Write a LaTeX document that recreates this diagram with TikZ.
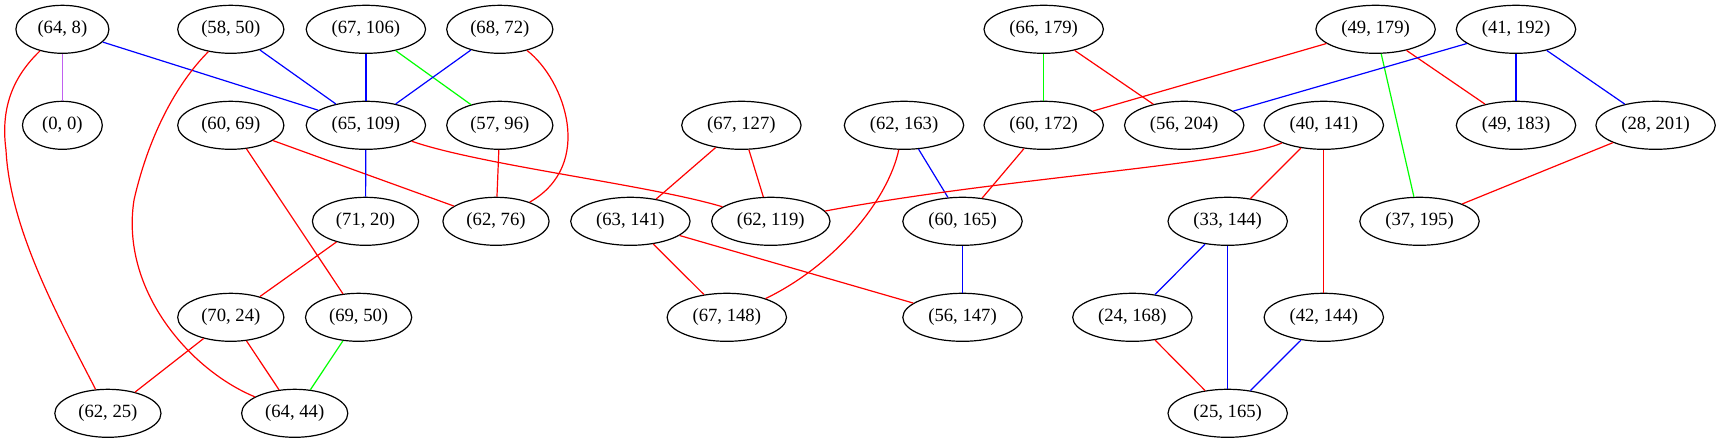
\documentclass[tikz,border=0pt]{standalone}
\usepackage{fontspec}
\setmainfont{Liberation Serif}
\usetikzlibrary{shapes.geometric}
\definecolor{gvpurple}{RGB}{192,96,240}
\tikzset{
  gv/.style={draw=black, ellipse, line width=0.9pt, inner xsep=6pt, inner ysep=2pt, minimum height=36pt, font=\fontsize{14}{16}\selectfont},
  er/.style={draw=red, line width=0.9pt},
  eb/.style={draw=blue, line width=0.9pt},
  eg/.style={draw=green, line width=0.9pt},
  ep/.style={draw=gvpurple, line width=0.9pt},
}
\begin{document}
\begin{tikzpicture}[x=0.75pt, y=-0.75pt]
\useasboundingbox (0,0) rectangle (1720,443);
\def\ra{29.3}\def\rb{125.3}\def\rc{221.3}\def\rd{317.3}\def\re{413.3}
\node[gv] (n64_8) at (62.4,\ra) {(64, 8)};
\node[gv] (n58_50) at (230.8,\ra) {(58, 50)};
\node[gv] (n67_106) at (365.9,\ra) {(67, 106)};
\node[gv] (n68_72) at (499.8,\ra) {(68, 72)};
\node[gv] (n66_179) at (1043.7,\ra) {(66, 179)};
\node[gv] (n49_179) at (1375.6,\ra) {(49, 179)};
\node[gv] (n41_192) at (1516,\ra) {(41, 192)};
\node[gv] (n0_0) at (62.4,\rb) {(0, 0)};
\node[gv] (n60_69) at (230.8,\rb) {(60, 69)};
\node[gv] (n65_109) at (365.9,\rb) {(65, 109)};
\node[gv] (n57_96) at (499.8,\rb) {(57, 96)};
\node[gv] (n67_127) at (741.4,\rb) {(67, 127)};
\node[gv] (n62_163) at (904,\rb) {(62, 163)};
\node[gv] (n60_172) at (1043.7,\rb) {(60, 172)};
\node[gv] (n56_204) at (1184.2,\rb) {(56, 204)};
\node[gv] (n40_141) at (1323.8,\rb) {(40, 141)};
\node[gv] (n49_183) at (1516,\rb) {(49, 183)};
\node[gv] (n28_201) at (1655.6,\rb) {(28, 201)};
\node[gv] (n71_20) at (365.5,\rc) {(71, 20)};
\node[gv] (n62_76) at (496,\rc) {(62, 76)};
\node[gv] (n63_141) at (630.4,\rc) {(63, 141)};
\node[gv] (n62_119) at (770.8,\rc) {(62, 119)};
\node[gv] (n60_165) at (962.5,\rc) {(60, 165)};
\node[gv] (n33_144) at (1227.7,\rc) {(33, 144)};
\node[gv] (n37_195) at (1419.5,\rc) {(37, 195)};
\node[gv] (n70_24) at (230.8,\rd) {(70, 24)};
\node[gv] (n69_50) at (358.6,\rd) {(69, 50)};
\node[gv] (n67_148) at (726.8,\rd) {(67, 148)};
\node[gv] (n56_147) at (962.5,\rd) {(56, 147)};
\node[gv] (n24_168) at (1132.4,\rd) {(24, 168)};
\node[gv] (n42_144) at (1323.8,\rd) {(42, 144)};
\node[gv] (n62_25) at (107.9,\re) {(62, 25)};
\node[gv] (n64_44) at (294.7,\re) {(64, 44)};
\node[gv] (n25_165) at (1227.7,\re) {(25, 165)};
% edges
\draw[ep] (n64_8) -- (n0_0);
\draw[eb] (n64_8) -- (n65_109);
\draw[er] (n64_8) .. controls (15,75) and (0,105) .. (6,150) .. controls (10,230) and (60,320) .. (n62_25);
\draw[eb] (n58_50) -- (n65_109);
\draw[er] (n58_50) .. controls (180,80) and (150,130) .. (134,200) .. controls (120,290) and (190,370) .. (n64_44);
\draw[eb] (n67_106) -- (n65_109);
\draw[eg] (n67_106) -- (n57_96);
\draw[eb] (n68_72) -- (n65_109);
\draw[er] (n68_72) .. controls (565,80) and (595,165) .. (n62_76);
\draw[eg] (n66_179) -- (n60_172);
\draw[er] (n66_179) -- (n56_204);
\draw[er] (n49_179) -- (n60_172);
\draw[eg] (n49_179) -- (n37_195);
\draw[er] (n49_179) -- (n49_183);
\draw[eb] (n41_192) -- (n56_204);
\draw[eb] (n41_192) -- (n49_183);
\draw[eb] (n41_192) -- (n28_201);
\draw[er] (n60_69) -- (n62_76);
\draw[er] (n60_69) -- (n69_50);
\draw[eb] (n65_109) -- (n71_20);
\draw[er] (n65_109) .. controls (480,165) and (650,185) .. (n62_119);
\draw[er] (n57_96) -- (n62_76);
\draw[er] (n67_127) -- (n63_141);
\draw[er] (n67_127) -- (n62_119);
\draw[eb] (n62_163) -- (n60_165);
\draw[er] (n62_163) .. controls (888,200) and (835,265) .. (n67_148);
\draw[er] (n60_172) -- (n60_165);
\draw[er] (n40_141) .. controls (1230,165) and (1000,178) .. (n62_119);
\draw[er] (n40_141) -- (n33_144);
\draw[er] (n40_141) -- (n42_144);
\draw[er] (n28_201) -- (n37_195);
\draw[er] (n71_20) -- (n70_24);
\draw[er] (n63_141) -- (n67_148);
\draw[er] (n63_141) -- (n56_147);
\draw[eb] (n60_165) -- (n56_147);
\draw[eb] (n33_144) -- (n24_168);
\draw[eb] (n33_144) -- (n25_165);
\draw[er] (n70_24) -- (n62_25);
\draw[er] (n70_24) -- (n64_44);
\draw[eg] (n69_50) -- (n64_44);
\draw[er] (n24_168) -- (n25_165);
\draw[eb] (n42_144) -- (n25_165);
\end{tikzpicture}
\end{document}
